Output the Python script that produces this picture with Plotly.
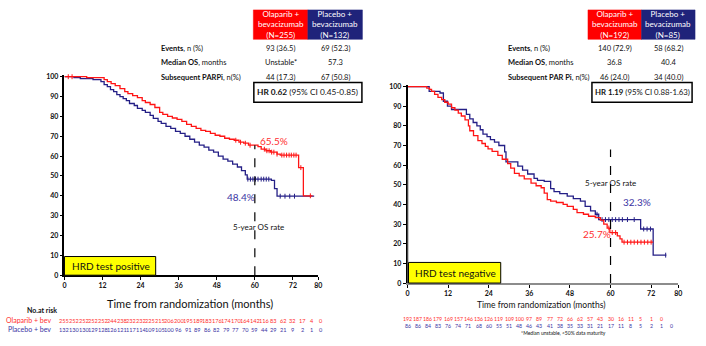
import plotly.graph_objects as go

W, H = 706, 346

# ---------------- HRD test positive ----------------
pos_ola_t = [0, 7, 12.5, 13.5, 14.7, 16, 17.5, 19, 20, 21.5, 23, 24.5, 25.5, 27, 28.5,
             30, 31, 32.5, 34, 35.5, 37, 38.5, 40, 41.5, 43, 44.5, 46, 47.5, 49, 50.5,
             52, 53.5, 55, 56.5, 58, 61, 62, 63.5, 65, 67, 68, 73.8, 75.3, 78.2]
pos_ola_s = [100, 99.5, 98.5, 97.5, 96.5, 95.5, 94, 92.5, 91.5, 90.5, 89.5, 88, 87, 86, 84.5,
             82, 81, 80, 79.2, 78.5, 77.5, 76, 75, 74, 73, 72.5, 71.5, 70.5, 70, 69,
             68.5, 68, 67, 66.5, 65.5, 64.8, 63.5, 62.7, 62, 61, 60.5, 54.2, 40, 40]
pos_pla_t = [0, 3, 5, 9, 11.5, 12.5, 13.5, 14.5, 15.5, 16.5, 17.5, 18.5, 19.5, 20.5, 22,
             23, 24.5, 25.5, 27, 28, 29.5, 30.5, 32, 33.5, 35, 36.5, 38, 39.5, 41, 42.5,
             44, 45.5, 47, 48.5, 50, 51.5, 53, 54.5, 55.8, 57, 57.6, 65.2, 66.2, 67, 78.7]
pos_pla_s = [100, 99.5, 99, 98.5, 97.5, 96, 95, 93.5, 92.5, 91, 90, 89, 88, 86.5, 85.5,
             84, 83, 82, 80.5, 79, 77.5, 76.5, 75, 74, 72.5, 71.5, 70, 68.5, 67, 65.5,
             64.5, 63, 62, 60, 58.5, 57.5, 56, 54.5, 52.7, 50.5, 48.4, 47.8, 43.6, 39.8, 39.8]
pos_ola_cens = [1.2, 2.4, 54, 55.5, 57, 58.5, 63, 63.8, 64.5, 65.3, 66, 67, 68.5, 69.2,
                70, 70.8, 71.5, 72.3, 73, 74.5, 77.5]
pos_pla_cens = [57.8, 58.6, 59.4, 60.2, 61, 62, 62.8, 63.6, 64.4, 68, 69.5, 71, 72.5]
pos_ola_risk = [255, 252, 252, 252, 252, 244, 238, 232, 232, 225, 215, 206, 200, 195, 189,
                183, 176, 174, 170, 164, 142, 116, 83, 62, 32, 17, 4, 0]
pos_pla_risk = [132, 130, 130, 129, 128, 126, 121, 117, 114, 109, 105, 100, 96, 91, 89,
                86, 82, 79, 77, 70, 59, 44, 29, 21, 9, 2, 1, 0]
pos_rate_ola, pos_rate_pla = 65.5, 48.4

# ---------------- HRD test negative ----------------
neg_ola_t = [0, 5.7, 6.5, 7.1, 8, 9, 10.1, 11, 12, 13, 14, 15, 15.9, 17, 18, 18.4, 19.5,
             20.8, 22, 23, 23.8, 25, 26.7, 28, 29.6, 30.5, 31.6, 33, 34.5, 36.5, 38, 39.5,
             40.4, 41.3, 42.3, 44, 46, 47.2, 49, 50.1, 52, 53.5, 55.5, 57, 58, 59, 59.8,
             62, 62.8, 63.4, 72.6]
neg_ola_s = [100, 99.2, 98.5, 97.5, 96, 94.5, 93.3, 92, 91, 89.2, 88, 86.5, 85, 83, 80, 77.5,
             75, 72.5, 71, 69.5, 68.3, 67, 65, 63, 60.8, 58.5, 55.8, 54.5, 53, 50.8, 49.5,
             48.5, 45.8, 42.5, 41.7, 41, 40, 39, 37.5, 35.8, 35, 34, 33.3, 32, 30, 28, 25.7,
             24, 22.5, 20.8, 20.8]
neg_pla_t = [0, 6.4, 9.6, 10.6, 11.8, 13, 17.4, 18.4, 19.4, 20.5, 21.5, 22.3, 23.5, 24.5,
             25.7, 27, 28.7, 29.1, 32.6, 34, 35.5, 37.4, 38.4, 40.4, 42.3, 43.3, 45, 47.2,
             49, 51.1, 52.5, 54.1, 55.5, 56.5, 68.9, 72.6, 76.5]
neg_pla_s = [100, 97.5, 96.7, 92.5, 90, 88.3, 85.8, 83.5, 81.7, 80, 78, 75.8, 74.5, 73,
             71.7, 70, 66.7, 61.7, 59.5, 57.5, 55.5, 53.3, 52.2, 51.7, 48, 46.5, 45.5, 44.2,
             43, 41.7, 39, 36.7, 35, 32.3, 27.5, 14.2, 14.2]
neg_ola_cens = [59.5, 60.5, 61.5, 64, 65, 66, 67, 68, 69, 70, 71, 72]
neg_pla_cens = [56, 57.5, 58.5, 59.5, 60.5, 61.5, 62.5, 63.5, 65, 67, 69.8, 70.8, 71.8, 76.3]
neg_ola_risk = [192, 187, 186, 179, 169, 157, 146, 136, 126, 119, 109, 100, 97, 89, 77, 72,
                66, 62, 57, 43, 30, 16, 11, 5, 1, 0]
neg_pla_risk = [86, 86, 84, 83, 76, 74, 71, 68, 60, 55, 51, 48, 46, 43, 41, 38, 35, 33, 31,
                21, 17, 11, 8, 5, 2, 1, 0]
neg_rate_ola, neg_rate_pla = 25.7, 32.3

x_ticks = [0, 12, 24, 36, 48, 60, 72, 80]
risk_step = 3  # months between at-risk counts

RED = "#ff1414"
BLUE = "#241f86"
RED_TXT = "#ff2e2e"
BLUE_TXT = "#3a33a3"
HDR_BLUE = "#1f237a"
FONT = "Lato"


def px(x):
    return x / W


def py(y):
    return 1 - y / H


def step_value(t, s, x):
    val = s[0]
    for ti, si in zip(t, s):
        if ti <= x:
            val = si
    return val


fig = go.Figure()


def add_km(t, s, cens, color, xa, ya):
    fig.add_trace(go.Scatter(x=t, y=s, mode="lines", xaxis=xa, yaxis=ya,
                             line=dict(color=color, width=1.3, shape="hv"),
                             showlegend=False, hoverinfo="skip"))
    fig.add_trace(go.Scatter(x=cens, y=[step_value(t, s, c) for c in cens],
                             mode="markers", xaxis=xa, yaxis=ya,
                             marker=dict(symbol="line-ns", size=3.5,
                                         line=dict(color=color, width=1)),
                             showlegend=False, hoverinfo="skip", cliponaxis=False))


add_km(pos_pla_t, pos_pla_s, pos_pla_cens, BLUE, "x", "y")
add_km(pos_ola_t, pos_ola_s, pos_ola_cens, RED, "x", "y")
add_km(neg_pla_t, neg_pla_s, neg_pla_cens, BLUE, "x2", "y2")
add_km(neg_ola_t, neg_ola_s, neg_ola_cens, RED, "x2", "y2")

# plot areas (pixels)
L = dict(x0=63, x1=319, ybot=277, ytop=73)
R = dict(x0=409, x1=682, ybot=285, ytop=83)

tickfont = dict(family=FONT, size=7, color="#111111", weight="bold")
common_x = dict(range=[0, 80], tickvals=x_ticks, showgrid=False, zeroline=False,
                showline=True, ticks="outside", ticklen=3, tickwidth=1,
                tickcolor="#000", tickfont=tickfont)
common_y = dict(range=[0, 101], tickvals=list(range(0, 101, 10)), showgrid=False,
                zeroline=False, showline=True, linecolor="#000", linewidth=1.5,
                ticks="outside", ticklen=3, tickwidth=1, tickcolor="#000",
                tickfont=tickfont)

fig.update_layout(
    width=W, height=H, margin=dict(l=0, r=0, t=0, b=0),
    paper_bgcolor="white", plot_bgcolor="white",
    font=dict(family=FONT, color="#111111"),
    xaxis=dict(domain=[px(L["x0"]), px(L["x1"])], anchor="y",
               linecolor="#000", linewidth=1.5, **common_x),
    yaxis=dict(domain=[py(L["ybot"]), py(L["ytop"])], anchor="x", **common_y),
    xaxis2=dict(domain=[px(R["x0"]), px(R["x1"])], anchor="y2",
                linecolor="#8c8c8c", linewidth=2, **common_x),
    yaxis2=dict(domain=[py(R["ybot"]), py(R["ytop"])], anchor="x2", **common_y),
)

shapes = []
ann = []


def text(x, y, s, size=7.5, color="#111111", xanchor="center", **kw):
    ann.append(dict(x=px(x), y=py(y), xref="paper", yref="paper", text=s,
                    showarrow=False, xanchor=xanchor, yanchor="middle",
                    font=dict(family=FONT, size=size, color=color), **kw))


def rect(x0, y0, x1, y1, fill="rgba(0,0,0,0)", line="#000", lw=1):
    shapes.append(dict(type="rect", xref="paper", yref="paper",
                       x0=px(x0), x1=px(x1), y0=py(y1), y1=py(y0),
                       fillcolor=fill, line=dict(color=line, width=lw), layer="above"))


# 5-year dashed markers
shapes.append(dict(type="line", xref="x", yref="y", x0=60, x1=60, y0=0, y1=pos_rate_ola,
                   line=dict(color="#000", width=1.2, dash="dash")))
shapes.append(dict(type="line", xref="x2", yref="y2", x0=60, x1=60, y0=0, y1=68,
                   line=dict(color="#000", width=1.2, dash="dash")))
# lower section of the right y-axis line
shapes.append(dict(type="line", xref="x2", yref="y2", x0=0, x1=0, y0=0, y1=58,
                   line=dict(color="#9a9a9a", width=2)))

# HRD subgroup boxes
rect(63, 258, 155, 277, fill="#ffff00")
text(69, 267.5, "HRD test positive", size=10, xanchor="left")
rect(410, 264, 503, 285, fill="#ffff00")
text(415, 274.5, "HRD test negative", size=10, xanchor="left")

# curve labels
text(274, 140, f"{pos_rate_ola}%", size=10, color=RED_TXT)
text(241, 197, f"{pos_rate_pla}%", size=10, color=BLUE_TXT)
text(259, 228, "5-year OS rate", size=8)
text(640, 203, f"{neg_rate_pla}%", size=10, color=BLUE_TXT)
text(600, 235, f"{neg_rate_ola}%", size=10, color=RED_TXT)
text(614, 183, "5-year OS rate", size=8)


# summary tables
def table(c1, c2, cw, label_x, headers, rows, hr_text, hr_box, hr_size):
    rect(c1 - cw / 2, 7, c1 + cw / 2, 37, fill="#ff0000", line="#ff0000", lw=0.5)
    rect(c2 - cw / 2, 7, c2 + cw / 2, 37, fill=HDR_BLUE, line=HDR_BLUE, lw=0.5)
    text(c1, 22, headers[0], size=8, color="white")
    text(c2, 22, headers[1], size=8, color="white")
    for (lab, v1, v2), y in zip(rows, [46, 61, 76]):
        text(label_x, y, lab, size=7.5, xanchor="left")
        text(c1, y, v1, size=7.5)
        text(c2, y, v2, size=7.5)
    rect(*hr_box, lw=1.5)
    text((hr_box[0] + hr_box[2]) / 2, (hr_box[1] + hr_box[3]) / 2, hr_text, size=hr_size)


table(281, 336, 55, 158,
      ["Olaparib +<br>bevacizumab<br>(N=255)", "Placebo +<br>bevacizumab<br>(N=132)"],
      [("<b>Events</b>, n (%)", "93 (36.5)", "69 (52.3)"),
       ("<b>Median OS</b>, months", "Unstable*", "57.3"),
       ("<b>Subsequent PARPi</b>, n(%)", "44 (17.3)", "67 (50.8)")],
      "<b>HR 0.62</b> (95% CI 0.45-0.85)", (254, 81, 363, 101), 8.3)
table(618, 672, 54, 508,
      ["Olaparib +<br>bevacizumab<br>(N=192)", "Placebo +<br>bevacizumab<br>(N=85)"],
      [("<b>Events</b>, n (%)", "140 (72.9)", "58 (68.2)"),
       ("<b>Median OS</b>, months", "36.8", "40.4"),
       ("<b>Subsequent PAR Pi</b>, n(%)", "46 (24.0)", "34 (40.0)")],
      "<b>HR 1.19</b> (95% CI 0.88-1.63)", (595, 81, 696, 101), 7.8)

# axis titles
text(190, 306, "Time from randomization (months)", size=11)
text(544, 307, "Time from randomization (months)", size=8.5)

# numbers at risk
text(23, 312, "<b>No.at risk</b>", size=7, xanchor="left")
text(2, 323, "Olaparib + bev", size=7, color=RED_TXT, xanchor="left")
text(4, 332, "Placebo + bev", size=7, color=BLUE_TXT, xanchor="left")


def risk_row(vals, area, y, color, size):
    scale = (area["x1"] - area["x0"]) / 80
    for i, v in enumerate(vals):
        text(area["x0"] + i * risk_step * scale, y, str(v), size=size, color=color)


risk_row(pos_ola_risk, L, 323, RED_TXT, 5.6)
risk_row(pos_pla_risk, L, 332, BLUE_TXT, 5.6)
risk_row(neg_ola_risk, R, 322, RED_TXT, 5.2)
risk_row(neg_pla_risk, R, 328.5, BLUE_TXT, 5.2)
text(566, 336, "*Median unstable, <50% data maturity", size=5)

fig.update_layout(shapes=shapes, annotations=ann)
fig.write_html("out.html")
